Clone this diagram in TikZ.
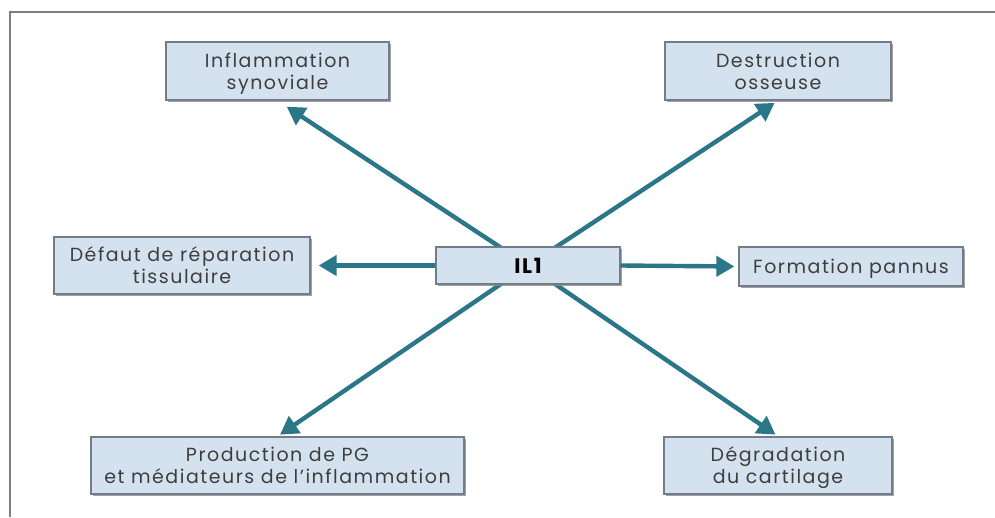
\documentclass[tikz,border=0pt]{standalone}
\usepackage{fontspec}
\setmainfont{Poppins}[LetterSpace=8]
\usetikzlibrary{arrows.meta,shadows,backgrounds}
\definecolor{boxfill}{HTML}{D4E2F0}
\definecolor{boxline}{HTML}{737D89}
\definecolor{arrowc}{HTML}{2B7688}
\definecolor{txt}{HTML}{3E3E3E}
\definecolor{framec}{HTML}{7E7E7E}
\tikzset{
  box/.style={draw=boxline, line width=1.3pt, fill=boxfill, inner sep=0pt,
    align=center, text=txt, font=\fontsize{19}{22}\selectfont, text depth=0pt,
    drop shadow={shadow xshift=1.6pt, shadow yshift=-1.6pt, fill=black!45, opacity=0.8}},
  link/.style={draw=arrowc, line width=4.4pt, -{Triangle[length=18pt,width=20pt]}}
}
\begin{document}
\begin{tikzpicture}[x=1pt,y=-1pt]
\begin{scope}[on background layer]
\fill[white] (0,0) rectangle (995,517);
\end{scope}
\useasboundingbox (0,0) rectangle (995,517);
\draw[framec, line width=2pt] (10,517) -- (10,12) -- (995,12);
\node[box, minimum width=223pt, minimum height=58pt] (infl) at (277.5,71) {Inflammation\\synoviale};
\node[box, minimum width=226pt, minimum height=58pt] (destr) at (778,71) {Destruction\\osseuse};
\node[box, minimum width=256pt, minimum height=57pt] (defaut) at (182,265.5) {Défaut de réparation\\tissulaire};
\node[box, minimum width=184pt, minimum height=37pt, text=black, font=\fontsize{21}{22}\selectfont\bfseries] (il) at (528,265.5) {IL1};
\node[box, minimum width=224pt, minimum height=39pt] (pannus) at (851,266.5) {Formation pannus};
\node[box, minimum width=373pt, minimum height=57pt] (prod) at (277.5,465.5) {Production de PG\\et médiateurs de l’inflammation};
\node[box, minimum width=228pt, minimum height=57pt] (degr) at (778,465.5) {Dégradation\\du cartilage};
\begin{scope}[on background layer]
\draw[link, shorten >=11pt] (il.center) -- (infl.south);
\draw[link, shorten >=4pt] (il.center) -- (destr.south);
\draw[link, shorten >=3pt] (il.center) -- (prod.north);
\draw[link, shorten >=3pt] (il.center) -- (degr.north);
\end{scope}
\draw[link, shorten >=8pt] (il.west) -- (defaut.east);
\draw[link, shorten >=4pt] (il.east) -- (pannus.west);
\end{tikzpicture}
\end{document}
